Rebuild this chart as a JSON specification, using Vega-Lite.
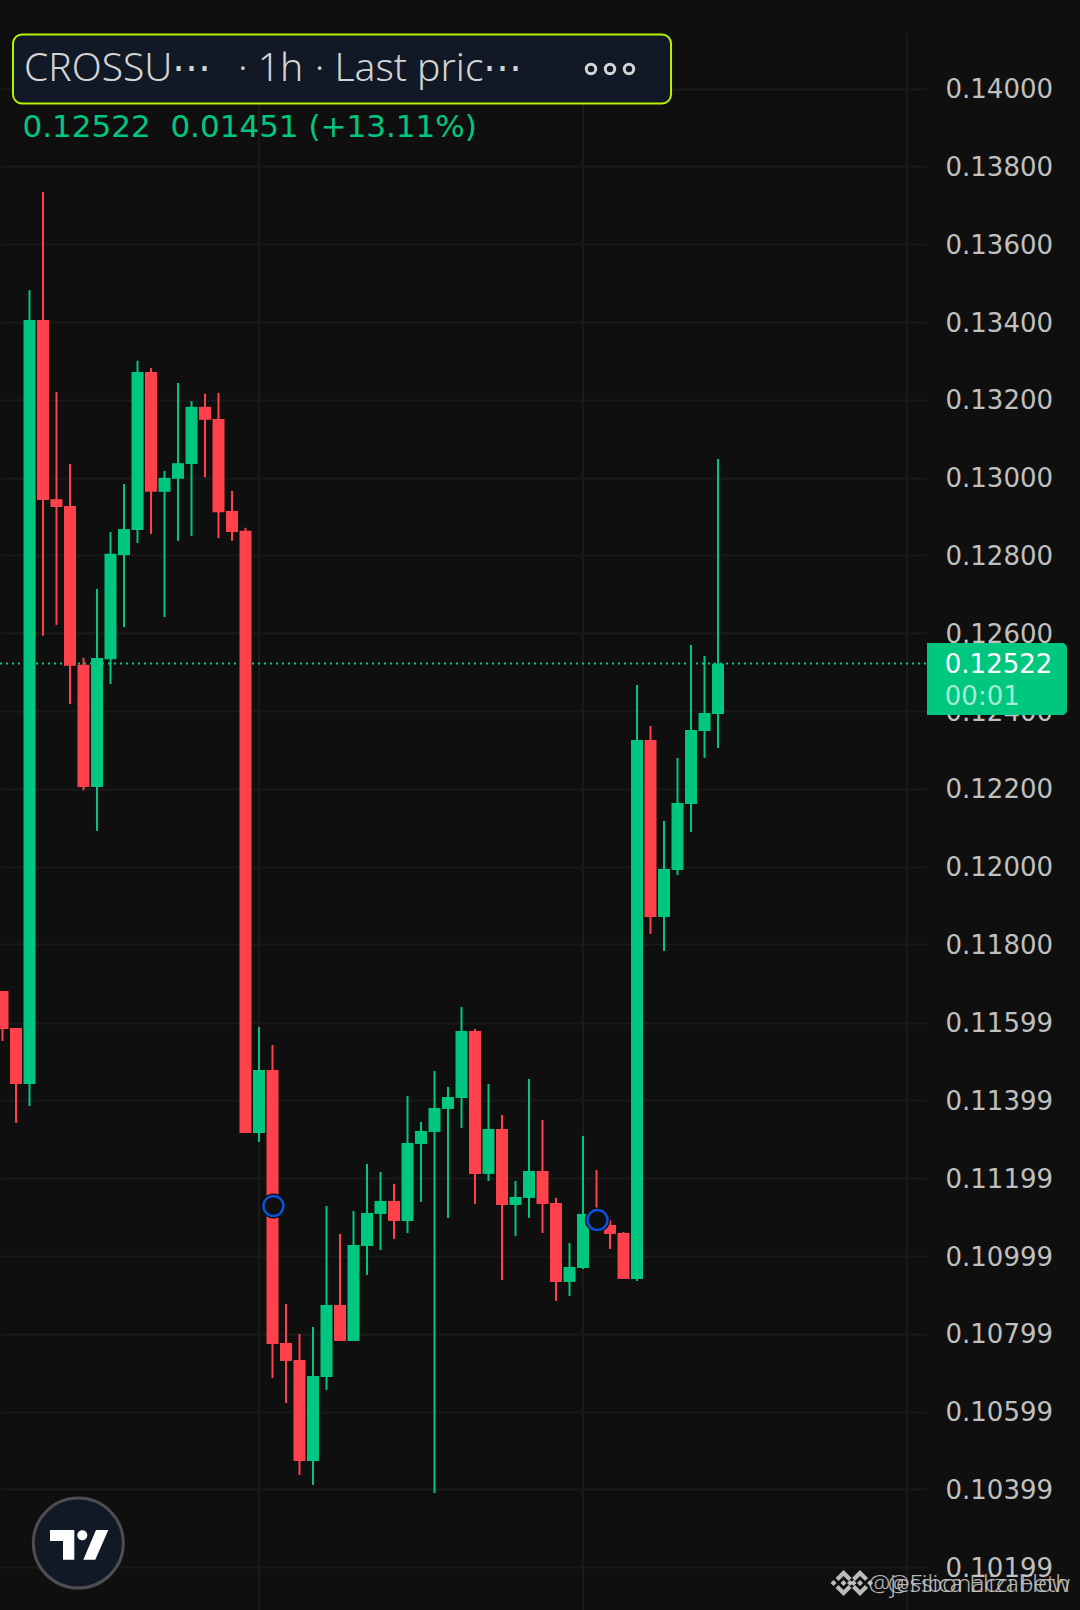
{
"$schema":"https://vega.github.io/schema/vega-lite/v6.json",
"width":927,"height":1610,"autosize":"none","padding":{"left":0,"top":0,"right":153,"bottom":0},
"background":"#0f0f0f",
"config":{"view":{"stroke":null},"axisX":{"disable":true},"axisY":{"title":null}},
"datasets":{"candles":[
{"bar":-2,"open":0.116804,"high":0.116804,"low":0.115519,"close":0.115827,"direction":"down"},
{"bar":-1,"open":0.115853,"high":0.115853,"low":0.113411,"close":0.114414,"direction":"down"},
{"bar":0,"open":0.114414,"high":0.134820,"low":0.113848,"close":0.134051,"direction":"up"},
{"bar":1,"open":0.134051,"high":0.137342,"low":0.125936,"close":0.129426,"direction":"down"},
{"bar":2,"open":0.129447,"high":0.132203,"low":0.126215,"close":0.129247,"direction":"down"},
{"bar":3,"open":0.129270,"high":0.130352,"low":0.124185,"close":0.125167,"direction":"down"},
{"bar":4,"open":0.125190,"high":0.125367,"low":0.121966,"close":0.122046,"direction":"down"},
{"bar":5,"open":0.122046,"high":0.127139,"low":0.120920,"close":0.125367,"direction":"up"},
{"bar":6,"open":0.125334,"high":0.128601,"low":0.124699,"close":0.128043,"direction":"up"},
{"bar":7,"open":0.128010,"high":0.129838,"low":0.126159,"close":0.128678,"direction":"up"},
{"bar":8,"open":0.128655,"high":0.133005,"low":0.128321,"close":0.132714,"direction":"up"},
{"bar":9,"open":0.132714,"high":0.132815,"low":0.128555,"close":0.129637,"direction":"down"},
{"bar":10,"open":0.129637,"high":0.130172,"low":0.126416,"close":0.129995,"direction":"up"},
{"bar":11,"open":0.129971,"high":0.132434,"low":0.128378,"close":0.130372,"direction":"up"},
{"bar":12,"open":0.130352,"high":0.131966,"low":0.128501,"close":0.131822,"direction":"up"},
{"bar":13,"open":0.131822,"high":0.132157,"low":0.130015,"close":0.131488,"direction":"down"},
{"bar":14,"open":0.131509,"high":0.132180,"low":0.128444,"close":0.129113,"direction":"down"},
{"bar":15,"open":0.129146,"high":0.129660,"low":0.128378,"close":0.128601,"direction":"down"},
{"bar":16,"open":0.128635,"high":0.128712,"low":0.113154,"close":0.113154,"direction":"down"},
{"bar":17,"open":0.113154,"high":0.115879,"low":0.112923,"close":0.114773,"direction":"up"},
{"bar":18,"open":0.114773,"high":0.115416,"low":0.106856,"close":0.107730,"direction":"down"},
{"bar":19,"open":0.107755,"high":0.108758,"low":0.106213,"close":0.107293,"direction":"down"},
{"bar":20,"open":0.107318,"high":0.107987,"low":0.104362,"close":0.104722,"direction":"down"},
{"bar":21,"open":0.104722,"high":0.108167,"low":0.104105,"close":0.106907,"direction":"up"},
{"bar":22,"open":0.106881,"high":0.111277,"low":0.106547,"close":0.108732,"direction":"up"},
{"bar":23,"open":0.108732,"high":0.110558,"low":0.107807,"close":0.107807,"direction":"down"},
{"bar":24,"open":0.107807,"high":0.111149,"low":0.107807,"close":0.110275,"direction":"up"},
{"bar":25,"open":0.110249,"high":0.112357,"low":0.109504,"close":0.111097,"direction":"up"},
{"bar":26,"open":0.111072,"high":0.112151,"low":0.110146,"close":0.111406,"direction":"up"},
{"bar":27,"open":0.111406,"high":0.111843,"low":0.110429,"close":0.110892,"direction":"down"},
{"bar":28,"open":0.110892,"high":0.114105,"low":0.110583,"close":0.112897,"direction":"up"},
{"bar":29,"open":0.112871,"high":0.113437,"low":0.111380,"close":0.113205,"direction":"up"},
{"bar":30,"open":0.113180,"high":0.114748,"low":0.103899,"close":0.113797,"direction":"up"},
{"bar":31,"open":0.113771,"high":0.114336,"low":0.110969,"close":0.114079,"direction":"up"},
{"bar":32,"open":0.114054,"high":0.116393,"low":0.113282,"close":0.115776,"direction":"up"},
{"bar":33,"open":0.115776,"high":0.115827,"low":0.111329,"close":0.112100,"direction":"down"},
{"bar":34,"open":0.112100,"high":0.114414,"low":0.111920,"close":0.113257,"direction":"up"},
{"bar":35,"open":0.113257,"high":0.113617,"low":0.109375,"close":0.111303,"direction":"down"},
{"bar":36,"open":0.111303,"high":0.111920,"low":0.110506,"close":0.111509,"direction":"up"},
{"bar":37,"open":0.111483,"high":0.114542,"low":0.110969,"close":0.112177,"direction":"up"},
{"bar":38,"open":0.112177,"high":0.113488,"low":0.110583,"close":0.111329,"direction":"down"},
{"bar":39,"open":0.111355,"high":0.111483,"low":0.108835,"close":0.109324,"direction":"down"},
{"bar":40,"open":0.109324,"high":0.110326,"low":0.108964,"close":0.109709,"direction":"up"},
{"bar":41,"open":0.109683,"high":0.113077,"low":0.109658,"close":0.111072,"direction":"up"},
{"bar":42,"open":0.111072,"high":0.112203,"low":0.110712,"close":0.110789,"direction":"down"},
{"bar":43,"open":0.110789,"high":0.110917,"low":0.110172,"close":0.110558,"direction":"down"},
{"bar":44,"open":0.110583,"high":0.110609,"low":0.109401,"close":0.109401,"direction":"down"},
{"bar":45,"open":0.109401,"high":0.124671,"low":0.109349,"close":0.123257,"direction":"up"},
{"bar":46,"open":0.123257,"high":0.123617,"low":0.118270,"close":0.118707,"direction":"down"},
{"bar":47,"open":0.118707,"high":0.121175,"low":0.117833,"close":0.119941,"direction":"up"},
{"bar":48,"open":0.119915,"high":0.122794,"low":0.119786,"close":0.121637,"direction":"up"},
{"bar":49,"open":0.121612,"high":0.125699,"low":0.120892,"close":0.123514,"direction":"up"},
{"bar":50,"open":0.123488,"high":0.125416,"low":0.122794,"close":0.123951,"direction":"up"},
{"bar":51,"open":0.123925,"high":0.130480,"low":0.123051,"close":0.12522,"direction":"up"}
]},
"layer":[
{"data":{"values":[{"bar":17},{"bar":41},{"bar":65}]},
 "mark":{"type":"rule","color":"#1a1a1a","strokeWidth":2},
 "encoding":{
  "x":{"field":"bar","type":"quantitative","scale":{"domain":[-2.185,66.481],"nice":false,"zero":false,"padding":0}},
  "y":{"datum":0.141432,"type":"quantitative","scale":{"domain":[0.10089,0.14228],"nice":false,"zero":false},
   "axis":{"orient":"right","title":null,"values":[0.14,0.138,0.136,0.134,0.132,0.13,0.128,0.126,0.124,0.122,0.12,0.118,0.11599,0.11399,0.11199,0.10999,0.10799,0.10599,0.10399,0.10199],
    "format":".5f","grid":true,"gridColor":"#1a1a1a","gridWidth":2,"domain":false,"ticks":false,"labelPadding":18,"labelAlign":"left","labelColor":"#c0c0c0","labelFont":"DejaVu Sans","labelFontSize":26,"labelOverlap":false,"labelBound":false,"labelFlush":false,"labelOffset":1}},
  "y2":{"datum":0.10089}}},
{"data":{"values":[{"last":0.12522}]},
 "mark":{"type":"rule","color":"#00c77f","strokeWidth":2,"strokeDash":[2,4]},
 "encoding":{"x":{"datum":-2.185,"type":"quantitative"},"x2":{"datum":66.481},"y":{"field":"last","type":"quantitative"}}},
{"data":{"name":"candles"},
 "mark":{"type":"rule","strokeWidth":2},
 "encoding":{"x":{"field":"bar","type":"quantitative"},"y":{"field":"low","type":"quantitative"},"y2":{"field":"high"},
  "color":{"field":"direction","type":"nominal","legend":null,"scale":{"domain":["up","down"],"range":["#00c77f","#ff414c"]}}}},
{"data":{"name":"candles"},
 "mark":{"type":"bar","size":12},
 "encoding":{"x":{"field":"bar","type":"quantitative"},"y":{"field":"open","type":"quantitative"},"y2":{"field":"close"},
  "color":{"field":"direction","type":"nominal","legend":null,"scale":{"domain":["up","down"],"range":["#00c77f","#ff414c"]}}}},
{"data":{"values":[{"bar":18.07,"price":0.111277},{"bar":42.07,"price":0.110917}]},
 "layer":[
  {"mark":{"type":"point","filled":true,"color":"#0a0a0a","size":625,"opacity":1},
   "encoding":{"x":{"field":"bar","type":"quantitative"},"y":{"field":"price","type":"quantitative"}}},
  {"mark":{"type":"point","filled":false,"fill":"#0f0f0f","stroke":"#0b52d6","strokeWidth":2.5,"size":400,"opacity":1},
   "encoding":{"x":{"field":"bar","type":"quantitative"},"y":{"field":"price","type":"quantitative"}}}
 ]},
{"data":{"values":[{"price":0.12522}]},
 "mark":{"type":"bar","color":"#00c77f","cornerRadiusTopRight":5,"cornerRadiusBottomRight":5},
 "encoding":{"x":{"datum":66.481,"type":"quantitative"},"x2":{"datum":76.85},"y":{"datum":0.12575,"type":"quantitative"},"y2":{"datum":0.1239}}},
{"data":{"values":[{"label":"0.12522"}]},
 "mark":{"type":"text","align":"left","baseline":"alphabetic","font":"DejaVu Sans","fontSize":26,"color":"#ffffff"},
 "encoding":{"x":{"datum":67.8,"type":"quantitative"},"y":{"datum":0.12498,"type":"quantitative"},"text":{"field":"label"}}},
{"data":{"values":[{"label":"00:01"}]},
 "mark":{"type":"text","align":"left","baseline":"alphabetic","font":"DejaVu Sans","fontSize":26,"color":"#a6ecd2"},
 "encoding":{"x":{"datum":67.8,"type":"quantitative"},"y":{"datum":0.124157,"type":"quantitative"},"text":{"field":"label"}}},
{"data":{"values":[{"box":"header"}]},
 "mark":{"type":"bar","fill":"#121926","stroke":"#b4f500","strokeWidth":2,"cornerRadius":9},
 "encoding":{"x":{"datum":-1.222,"type":"quantitative"},"x2":{"datum":47.52},"y":{"datum":0.141393,"type":"quantitative"},"y2":{"datum":0.139619}}},
{"data":{"values":[{"label":"CROSSU⋯"}]},
 "mark":{"type":"text","align":"left","baseline":"alphabetic","font":"Noto Sans","fontSize":39,"fontWeight":300,"color":"#d4d4d4"},
 "encoding":{"x":{"datum":-0.407,"type":"quantitative"},"y":{"datum":0.140205,"type":"quantitative"},"text":{"field":"label"}}},
{"data":{"values":[{"label":"· 1h"}]},
 "mark":{"type":"text","align":"left","baseline":"alphabetic","font":"Noto Sans","fontSize":39,"fontWeight":300,"color":"#d4d4d4"},
 "encoding":{"x":{"datum":15.45,"type":"quantitative"},"y":{"datum":0.140205,"type":"quantitative"},"text":{"field":"label"}}},
{"data":{"values":[{"label":"· Last pric⋯"}]},
 "mark":{"type":"text","align":"left","baseline":"alphabetic","font":"Noto Sans","fontSize":39,"fontWeight":300,"color":"#d4d4d4"},
 "encoding":{"x":{"datum":21.13,"type":"quantitative"},"y":{"datum":0.140205,"type":"quantitative"},"text":{"field":"label"}}},
{"data":{"values":[{"menu":"more"}]},
 "mark":{"type":"point","filled":false,"stroke":"#d4d4d4","strokeWidth":3,"size":4,"opacity":1,"shape":"M-23.7,0a4.7,4.7 0 1,0 9.4,0a4.7,4.7 0 1,0 -9.4,0Z M-4.7,0a4.7,4.7 0 1,0 9.4,0a4.7,4.7 0 1,0 -9.4,0Z M14.3,0a4.7,4.7 0 1,0 9.4,0a4.7,4.7 0 1,0 -9.4,0Z"},
 "encoding":{"x":{"datum":43.0,"type":"quantitative"},"y":{"datum":0.140506,"type":"quantitative"}}},
{"data":{"values":[{"label":"0.12522\u00a0\u00a00.01451 (+13.11%)"}]},
 "mark":{"type":"text","align":"left","baseline":"alphabetic","font":"DejaVu Sans","fontSize":31,"color":"#00c77f"},
 "encoding":{"x":{"datum":-0.52,"type":"quantitative"},"y":{"datum":0.138758,"type":"quantitative"},"text":{"field":"label"}}},
{"data":{"values":[{"logo":"TradingView"}]},
 "mark":{"type":"point","filled":true,"fill":"#121926","stroke":"#4d4d52","strokeWidth":3,"size":8100,"opacity":1},
 "encoding":{"x":{"datum":3.615,"type":"quantitative"},"y":{"datum":0.10261,"type":"quantitative"}}},
{"data":{"values":[{"logo":"TradingView mark"}]},
 "mark":{"type":"point","filled":true,"fill":"#ffffff","stroke":null,"size":4,"opacity":1,"shape":"M-28.3,-12H-4V17.7H-15.3V-1H-28.3Z M-1,-6.7a5,5 0 1,0 10,0a5,5 0 1,0 -10,0Z M17.7,-12H30L17,17.7H5Z"},
 "encoding":{"x":{"datum":3.615,"type":"quantitative"},"y":{"datum":0.10264,"type":"quantitative"}}},
{"data":{"values":[{"logo":"Binance","pos":60.3},{"logo":"Binance","pos":61.52}]},
 "mark":{"type":"point","filled":true,"fill":"#cfcfcf","stroke":null,"size":4,"opacity":0.9,"shape":"M0,-13L8,-5L5,-2L0,-7L-5,-2L-8,-5Z M0,13L8,5L5,2L0,7L-5,2L-8,5Z M0,-3L3,0L0,3L-3,0Z M-10,-3L-7,0L-10,3L-13,0Z M10,-3L13,0L10,3L7,0Z"},
 "encoding":{"x":{"field":"pos","type":"quantitative"},"y":{"datum":0.101586,"type":"quantitative"}}},
{"data":{"values":[{"label":"@jessica Elizabeth"},{"label":"@Fibonacci Flow"}]},
 "mark":{"type":"text","align":"right","baseline":"alphabetic","font":"Noto Sans","fontSize":24.5,"fontWeight":300,"color":"#c8c8c8","opacity":0.9},
 "encoding":{"x":{"datum":77.07,"type":"quantitative"},"y":{"datum":0.101362,"type":"quantitative"},"text":{"field":"label"}}}
]
}
